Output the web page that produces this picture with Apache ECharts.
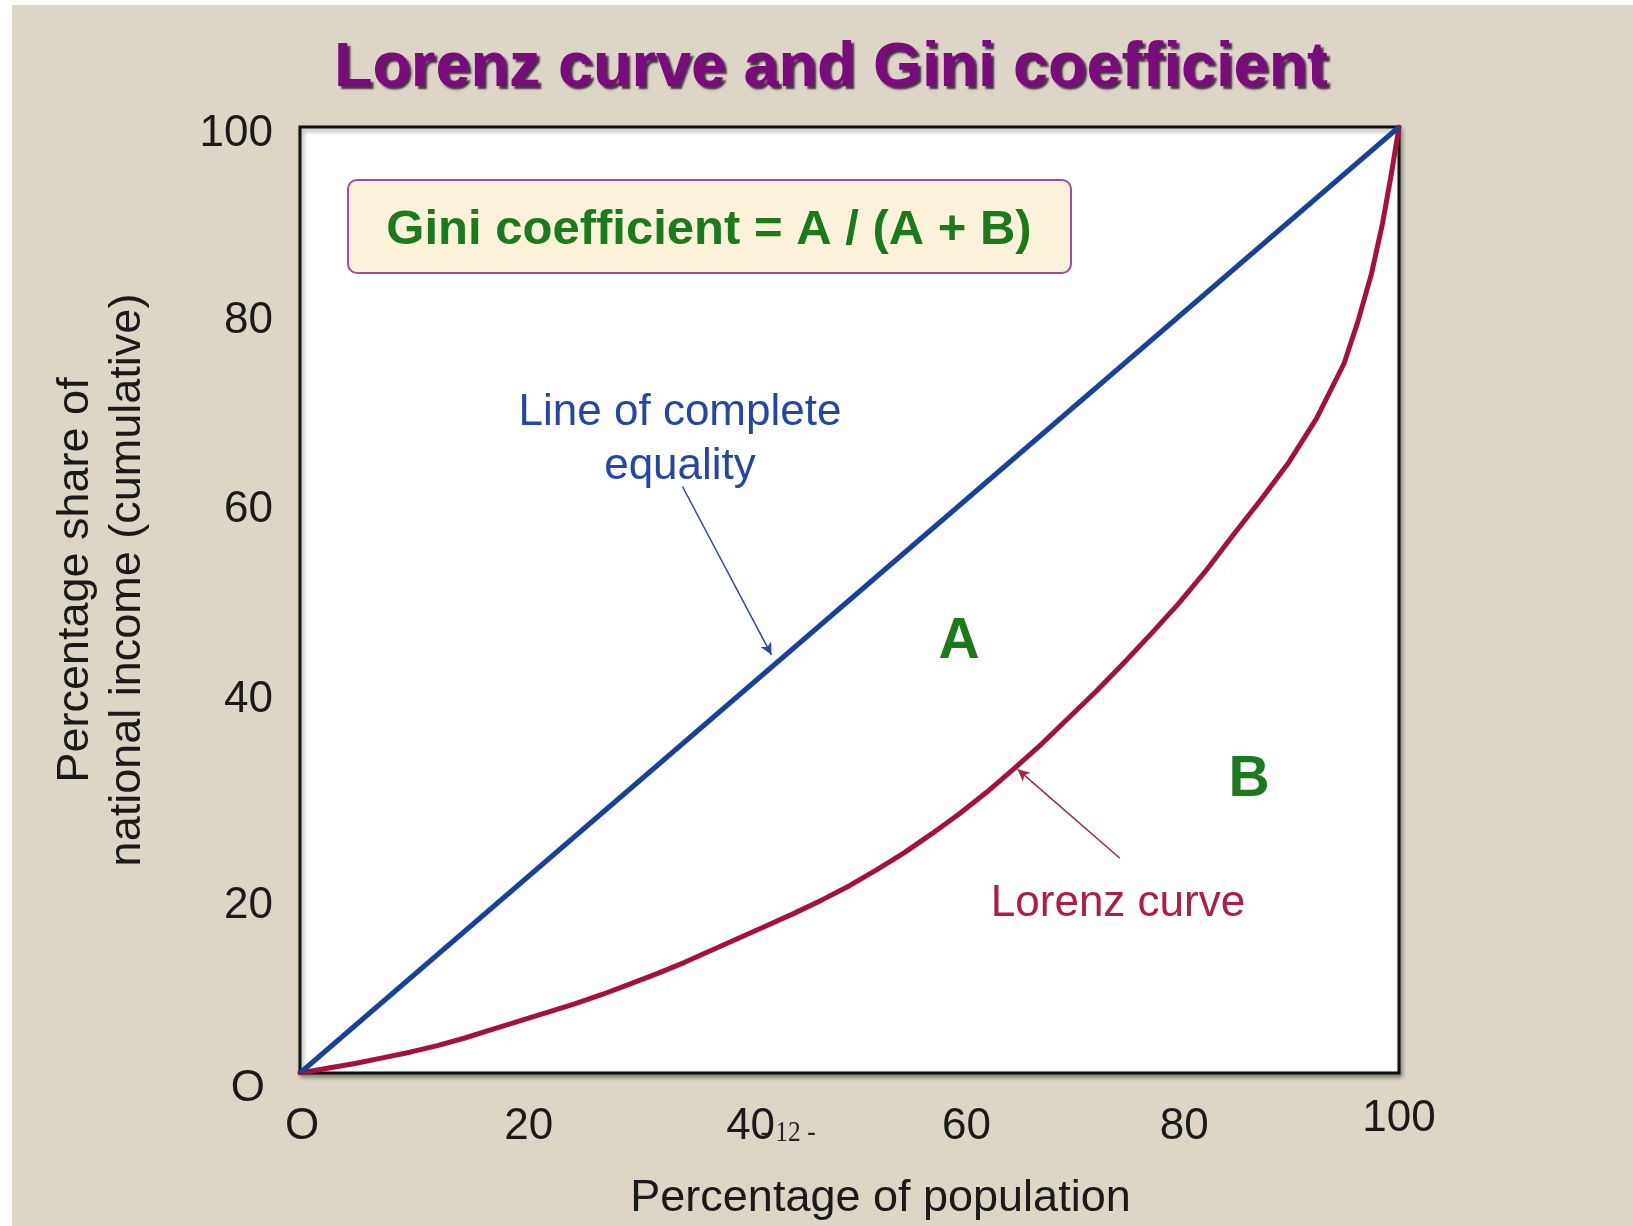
<!DOCTYPE html>
<html>
<head>
<meta charset="utf-8">
<script src="https://cdn.jsdelivr.net/npm/echarts@6/dist/echarts.min.js"></script>
<style>
html,body{margin:0;padding:0;background:#fff;}
#chart{width:1633px;height:1226px;}
</style>
</head>
<body>
<div id="chart"></div>
<script>
// ---- data ----
const populationShare = [0, 2.5, 5, 7.5, 10, 12.5, 15, 17.5, 20, 22.5, 25, 27.5, 30, 32.5, 35, 37.5, 40, 42.5, 45, 47.5, 50,
                         52.5, 55, 57.5, 60, 62.5, 65, 67.5, 70, 72.5, 75, 77.5, 80, 82.5, 85, 87.5, 90, 92.5, 95, 96.25, 97.5, 98.5, 99.3, 100];
const incomeShare     = [0, 0.5, 1.0, 1.6, 2.2, 2.9, 3.7, 4.6, 5.5, 6.4, 7.3, 8.3, 9.4, 10.5, 11.7, 13.0, 14.3, 15.6, 16.9, 18.3, 19.8,
                         21.5, 23.3, 25.3, 27.4, 29.7, 32.2, 34.8, 37.6, 40.4, 43.4, 46.5, 49.7, 53.2, 57.0, 60.7, 64.6, 69.2, 75.0, 79.4, 84.5, 89.8, 95.0, 100];
const equalityX = [0, 100];
const equalityY = [0, 100];
const tickValues = [0, 20, 40, 60, 80, 100];
const titleText = 'Lorenz curve and Gini coefficient';
const formulaText = 'Gini coefficient = A / (A + B)';
const xAxisName = 'Percentage of population';
const yAxisName = 'Percentage share of\nnational income (cumulative)';
const equalityLabel = 'Line of complete\nequality';
const lorenzLabel = 'Lorenz curve';
const equalityArrow = [[34.8, 62.0], [42.9, 44.2]];
const lorenzArrow = [[74.6, 22.7], [65.3, 32.1]];
const pageNumber = '- 12 -';

const FONT = '"Liberation Sans", Arial, Helvetica, sans-serif';
const BLUE = '#17419a';
const RED = '#a6113b';
const GREEN = '#1b7a1b';
const TICK = {fontFamily: FONT, fontSize: 44, color: '#1a1a1a'};

const chart = echarts.init(document.getElementById('chart'), null, {renderer: 'canvas'});

const lorenzData = populationShare.map((x, i) => [x, incomeShare[i]]);
const equalityData = equalityX.map((x, i) => [x, equalityY[i]]);

// small per-label nudges (reference labels are slightly irregular)
const yPad = {0: [32, 8, 0, 0], 20: [44, 0, 0, 0], 40: [10, 0, 0, 0], 60: [8, 0, 0, 0], 80: [10, 0, 0, 0], 100: [14, 0, 0, 0]};
const xPad = {0: [8, 0, 0, 4], 20: [8, 0, 0, 18], 40: [8, 0, 0, 22], 60: [8, 0, 0, 14], 80: [8, 0, 0, 10], 100: [0, 0, 0, 0]};
const yRich = {}, xRich = {};
tickValues.forEach(v => {
  yRich['y' + v] = Object.assign({padding: yPad[v]}, TICK);
  xRich['x' + v] = Object.assign({padding: xPad[v]}, TICK);
});
const tickText = v => (v === 0 ? 'O' : String(v));

const option = {
  backgroundColor: '#ddd6c7',
  animation: false,
  grid: {
    left: 300, top: 127, width: 1099, height: 948,
    show: true, backgroundColor: '#ffffff', borderColor: '#111111', borderWidth: 3,
    shadowColor: 'rgba(0,0,0,0.35)', shadowBlur: 4, shadowOffsetX: 2, shadowOffsetY: 3
  },
  xAxis: {
    type: 'value', min: 0, max: 100, interval: 20,
    axisLine: {show: false}, axisTick: {show: false}, splitLine: {show: false},
    axisLabel: Object.assign({
      margin: 24, customValues: tickValues, rich: xRich,
      formatter: v => '{x' + v + '|' + tickText(v) + '}'
    }, TICK),
    name: xAxisName, nameLocation: 'middle', nameGap: 103,
    nameTextStyle: {fontFamily: FONT, fontSize: 45, color: '#1a1a1a', padding: [0, 0, 0, 62]}
  },
  yAxis: {
    type: 'value', min: 0, max: 100, interval: 20,
    axisLine: {show: false}, axisTick: {show: false}, splitLine: {show: false},
    axisLabel: Object.assign({
      margin: 27, customValues: tickValues, rich: yRich,
      formatter: v => '{y' + v + '|' + tickText(v) + '}'
    }, TICK),
    name: yAxisName, nameLocation: 'middle', nameGap: 146,
    nameTextStyle: {fontFamily: FONT, fontSize: 45, color: '#1a1a1a', lineHeight: 52, padding: [0, 0, 0, 40]}
  },
  series: [
    {
      name: 'Line of complete equality', type: 'line', data: equalityData,
      showSymbol: false, z: 4,
      lineStyle: {color: BLUE, width: 5},
      markLine: {
        silent: true, symbol: ['none', 'arrow'], symbolSize: [9, 12],
        lineStyle: {color: '#2a48a4', width: 1.5, type: 'solid'},
        label: {show: false},
        data: [[{coord: equalityArrow[0]}, {coord: equalityArrow[1]}]]
      }
    },
    {
      name: 'Lorenz curve', type: 'line', data: lorenzData,
      showSymbol: false, smooth: false, z: 3,
      lineStyle: {color: RED, width: 5, join: 'round', cap: 'round'},
      markLine: {
        silent: true, symbol: ['none', 'arrow'], symbolSize: [9, 12],
        lineStyle: {color: '#a0283f', width: 1.5, type: 'solid'},
        label: {show: false},
        data: [[{coord: lorenzArrow[0]}, {coord: lorenzArrow[1]}]]
      }
    }
  ],
  graphic: [
    {type: 'rect', shape: {x: 0, y: 0, width: 12, height: 1226}, style: {fill: '#ffffff'}, z: 0, silent: true},
    {type: 'rect', shape: {x: 0, y: 0, width: 1633, height: 5}, style: {fill: '#ffffff'}, z: 0, silent: true},
    {
      type: 'text', x: 831, y: 69, z: 10,
      style: {
        text: titleText, fill: '#7a0a7e', font: 'bold 63px ' + FONT,
        textAlign: 'center', textVerticalAlign: 'middle',
        textShadowColor: 'rgba(40,0,40,0.8)', textShadowBlur: 2, textShadowOffsetX: 3, textShadowOffsetY: 3
      }
    },
    {
      type: 'rect', z: 10,
      shape: {x: 348, y: 180, width: 723, height: 93, r: 9},
      style: {fill: '#fcf2da', stroke: '#9b4f9e', lineWidth: 2}
    },
    {
      type: 'text', x: 709, y: 230, z: 11,
      style: {text: formulaText, fill: GREEN, font: 'bold 49px ' + FONT, textAlign: 'center', textVerticalAlign: 'middle'}
    },
    {
      type: 'text', x: 959, y: 642, z: 11,
      style: {text: 'A', fill: GREEN, font: 'bold 57px ' + FONT, textAlign: 'center', textVerticalAlign: 'middle'}
    },
    {
      type: 'text', x: 1249, y: 780, z: 11,
      style: {text: 'B', fill: GREEN, font: 'bold 57px ' + FONT, textAlign: 'center', textVerticalAlign: 'middle'}
    },
    {
      type: 'text', x: 680, y: 440, z: 11,
      style: {text: equalityLabel, fill: '#2446a6', font: '44px ' + FONT, lineHeight: 54, textAlign: 'center', textVerticalAlign: 'middle'}
    },
    {
      type: 'text', x: 1118, y: 904, z: 11,
      style: {text: lorenzLabel, fill: '#b01c46', font: '44px ' + FONT, textAlign: 'center', textVerticalAlign: 'middle'}
    },
    {
      type: 'text', x: 788, y: 1133, z: 11, scaleX: 0.85,
      style: {text: pageNumber, fill: '#222222', font: '30px "Liberation Serif", "Times New Roman", serif', textAlign: 'center', textVerticalAlign: 'middle'}
    }
  ]
};

chart.setOption(option);
</script>
</body>
</html>
